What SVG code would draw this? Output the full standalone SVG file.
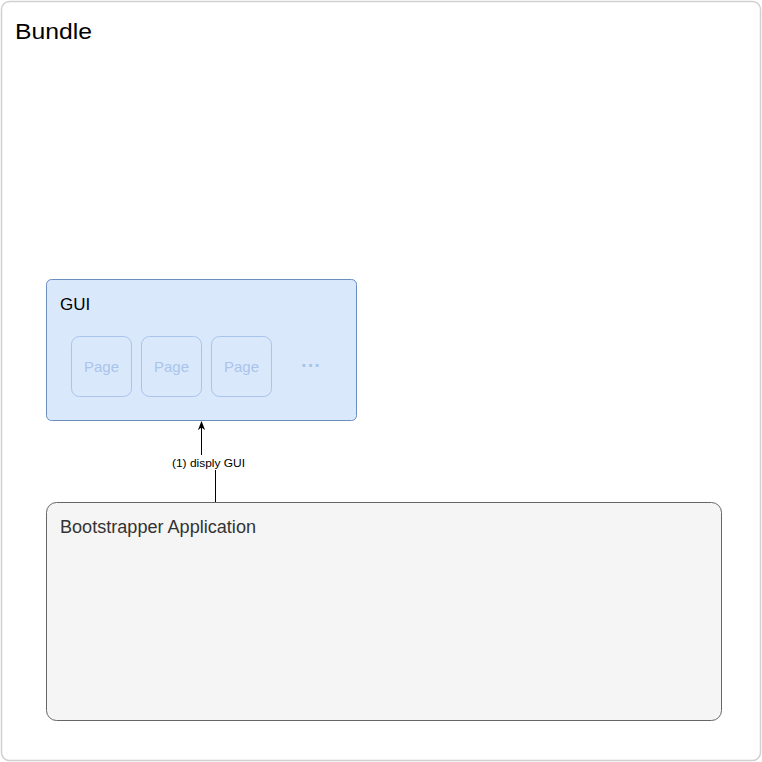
<svg xmlns="http://www.w3.org/2000/svg" width="762" height="762" viewBox="0 0 762 762">
<defs>
<style>
text{font-family:"Liberation Sans",Arial,sans-serif}
.page rect{fill:#dae8fc;stroke:#a9c4eb;stroke-width:1}
.page text{fill:#a9c4eb;font-size:15px;text-anchor:middle}
</style>
<marker id="arr" viewBox="0 0 10 10" refX="9" refY="5" markerWidth="9" markerHeight="9" markerUnits="userSpaceOnUse" orient="auto"><path d="M0,1 L10,5 L0,9 L3,5 Z" fill="#000"/></marker>
</defs>
<rect width="762" height="762" fill="#fff"/>
<g id="bundle">
<rect x="1.5" y="1.5" width="759" height="759" rx="8" fill="#fff" stroke="#d0d0d0" stroke-width="1.5"/>
<text x="15" y="39" font-size="22" fill="#000" textLength="77" lengthAdjust="spacingAndGlyphs">Bundle</text>
</g>
<g id="gui">
<rect x="46.5" y="279.5" width="310" height="141" rx="5" fill="#dae8fc" stroke="#6c8ebf"/>
<text x="60" y="310" font-size="17" fill="#000">GUI</text>
</g>
<g id="page1" class="page"><rect x="71.5" y="336.5" width="60" height="60" rx="8"/><text x="101.5" y="372">Page</text></g>
<g id="page2" class="page"><rect x="141.5" y="336.5" width="60" height="60" rx="8"/><text x="171.5" y="372">Page</text></g>
<g id="page3" class="page"><rect x="211.5" y="336.5" width="60" height="60" rx="8"/><text x="241.5" y="372">Page</text></g>
<g id="more" class="page"><text x="311" y="372" style="font-size:20px;font-weight:bold">···</text></g>
<g id="bootstrapper">
<rect x="46.5" y="502.5" width="675" height="218" rx="10" fill="#f5f5f5" stroke="#666"/>
<text x="60" y="533" font-size="17.5" fill="#333" textLength="196" lengthAdjust="spacingAndGlyphs">Bootstrapper Application</text>
</g>
<g id="connectors">
<path d="M215.5,502 L215.5,463 L201.5,463 L201.5,422" fill="none" stroke="#000" stroke-width="1" marker-end="url(#arr)"/>
<rect x="170" y="455" width="77" height="15" fill="#fff"/>
<text x="208.5" y="467" font-size="11" fill="#000" text-anchor="middle" textLength="73" lengthAdjust="spacingAndGlyphs">(1) disply GUI</text>
</g>
</svg>
